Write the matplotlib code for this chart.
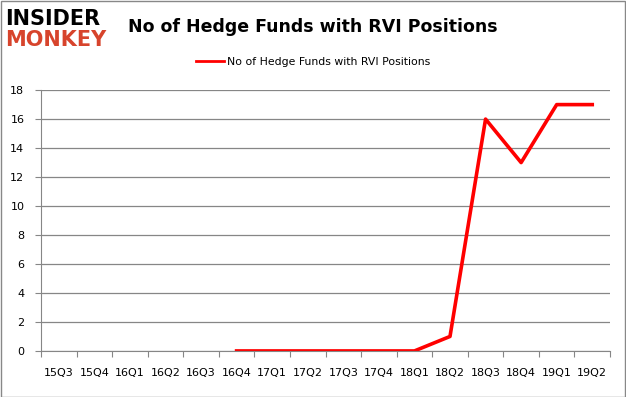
import numpy as np
import matplotlib.pyplot as plt
from matplotlib.patches import Rectangle

# Data
quarters = ["15Q3", "15Q4", "16Q1", "16Q2", "16Q3", "16Q4", "17Q1", "17Q2",
            "17Q3", "17Q4", "18Q1", "18Q2", "18Q3", "18Q4", "19Q1", "19Q2"]
hedge_funds = [np.nan, np.nan, np.nan, np.nan, np.nan, 0, 0, 0,
               0, 0, 0, 1, 16, 13, 17, 17]
y_ticks = [0, 2, 4, 6, 8, 10, 12, 14, 16, 18]

fig = plt.figure(figsize=(6.26, 3.97), dpi=100)
ax = fig.add_axes([0.0655, 0.116, 0.909, 0.657])

x = np.arange(len(quarters))
ax.plot(x, hedge_funds, color="#ff0000", linewidth=2.6,
        label="No of Hedge Funds with RVI Positions")

ax.set_xlim(-0.5, len(quarters) - 0.5)
ax.set_ylim(0, 18)
ax.set_yticks(y_ticks)
ax.set_xticks(np.arange(-0.5, len(quarters), 1.0), minor=False)
ax.set_xticklabels([])
ax.set_xticks(x, minor=True)
ax.set_xticklabels(quarters, minor=True)
ax.tick_params(axis="x", which="minor", length=0, pad=12, labelsize=8)
ax.tick_params(axis="x", which="major", length=4, color="#868686", direction="out")
ax.tick_params(axis="y", length=4, color="#868686", direction="out", labelsize=8, pad=8)

ax.grid(axis="y", color="#868686", linewidth=0.9)
ax.set_axisbelow(True)
for side in ["top", "right"]:
    ax.spines[side].set_visible(False)
for side in ["left", "bottom"]:
    ax.spines[side].set_color("#868686")

fig.text(0.5, 0.932, "No of Hedge Funds with RVI Positions", ha="center", va="center",
         fontsize=12.5, fontweight="bold")
leg = ax.legend(loc="center", bbox_to_anchor=(0.478, 1.107), frameon=False,
                fontsize=7.8, handlelength=2.6, handletextpad=0.2)
for h in leg.get_lines():
    h.set_linewidth(2)

# logo
fig.text(0.008, 0.952, "INSIDER", fontsize=15, fontweight="heavy", color="black",
         va="center", ha="left")
fig.text(0.008, 0.898, "MONKEY", fontsize=15, fontweight="heavy", color="#d7442c",
         va="center", ha="left")

fig.add_artist(Rectangle((0.001, 0.001), 0.997, 0.997, transform=fig.transFigure,
                         fill=False, edgecolor="#888888", linewidth=1))

fig.savefig("out.png", dpi=100)
